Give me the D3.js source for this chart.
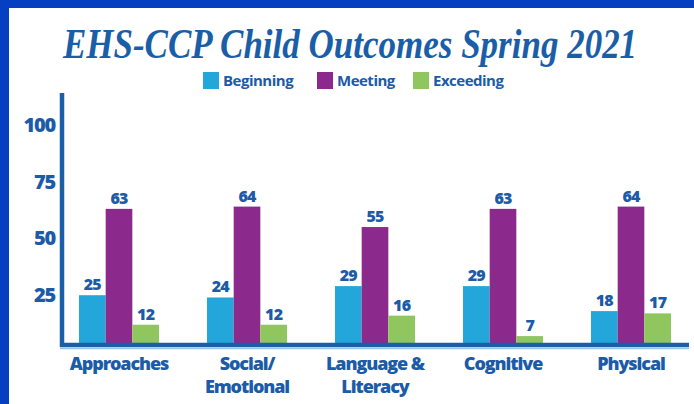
<!DOCTYPE html>
<html>
<head>
<meta charset="utf-8">
<script src="https://cdn.jsdelivr.net/npm/d3@7"></script>
<style>
  body { margin: 0; background: #fff; }
  #chart { width: 694px; height: 404px; }
</style>
</head>
<body>
<div id="chart"></div>
<script>
const w = 694;
const h = 404;

const categories = [["Approaches"], ["Social/", "Emotional"], ["Language &", "Literacy"], ["Cognitive"], ["Physical"]];
const series = ["Beginning", "Meeting", "Exceeding"];
const beginning = [25, 24, 29, 29, 18];
const meeting = [63, 64, 55, 63, 64];
const exceeding = [12, 12, 16, 7, 17];
const yTicks = [25, 50, 75, 100];

const colors = ["#23a6d9", "#8b2a8c", "#8fc65e"];
const textColor = "#1b5ba7";
const labelFont = "'Open Sans', sans-serif";
const baseline = 343;

const svg = d3.select("#chart")
                .append("svg")
                .attr("width", w)
                .attr("height", h);

// frame
svg.append("rect").attr("x", 0).attr("y", 0).attr("width", w).attr("height", 8).attr("fill", "#0640c2");
svg.append("rect").attr("x", 0).attr("y", 0).attr("width", 9).attr("height", h).attr("fill", "#0640c2");

// title (stretched a bit to get the tall brush look)
svg.append("text")
    .attr("transform", "translate(350,58) scale(1,1.22)")
    .attr("text-anchor", "middle")
    .style("font-family", "'Liberation Serif', serif")
    .style("font-style", "italic")
    .style("font-weight", "bold")
    .style("font-size", "35px")
    .style("fill", "#1a5ea8")
    .text("EHS-CCP Child Outcomes Spring 2021");

const x0 = d3.scaleBand()
                .domain(d3.range(categories.length))
                .range([55, 695])
                .paddingInner(0.375)
                .paddingOuter(0.1875);

const x1 = d3.scaleBand()
                .domain(series)
                .range([0, x0.bandwidth()]);

const y = d3.scaleLinear()
                .domain([0, 114])
                .range([352, 93]);

// legend
const legendX = [203, 317, 413];
const legend = svg.selectAll(".legend")
                .data(series)
                .enter()
                .append("g")
                .attr("class", "legend")
                .attr("transform", (d, i) => "translate(" + legendX[i] + ",72)");
legend.append("rect")
    .attr("width", 16)
    .attr("height", 17)
    .attr("fill", (d, i) => colors[i]);
legend.append("text")
    .attr("x", 20)
    .attr("y", 14)
    .style("font-family", labelFont)
    .style("font-weight", 700)
    .style("font-size", "15px")
    .style("letter-spacing", "-0.5px")
    .style("fill", textColor)
    .text(d => d);

// bars
const rows = categories.map((c, i) => [beginning[i], meeting[i], exceeding[i]]);

const groups = svg.selectAll(".group")
                .data(rows)
                .enter()
                .append("g")
                .attr("class", "group")
                .attr("transform", (d, i) => "translate(" + x0(i) + ",0)");

groups.selectAll("rect")
    .data(d => d.map((v, j) => ({ key: series[j], value: v, j: j })))
    .enter()
    .append("rect")
    .attr("x", d => x1(d.key))
    .attr("y", d => y(d.value))
    .attr("width", x1.bandwidth())
    .attr("height", d => baseline - y(d.value))
    .attr("fill", d => colors[d.j]);

groups.selectAll(".value")
    .data(d => d.map((v, j) => ({ key: series[j], value: v })))
    .enter()
    .append("text")
    .attr("class", "value")
    .attr("x", d => x1(d.key) + x1.bandwidth() / 2)
    .attr("y", d => y(d.value) - 5)
    .attr("text-anchor", "middle")
    .style("font-family", labelFont)
    .style("font-weight", 800)
    .style("font-size", "16px")
    .style("letter-spacing", "-0.8px")
    .style("fill", textColor)
    .text(d => d.value);

// axes
svg.append("line")
    .attr("x1", 62).attr("y1", 93)
    .attr("x2", 62).attr("y2", 347)
    .attr("stroke", "#1b5fa8")
    .attr("stroke-width", 4.5);
svg.append("line")
    .attr("x1", 60).attr("y1", 345)
    .attr("x2", 689).attr("y2", 345)
    .attr("stroke", "#1b5fa8")
    .attr("stroke-width", 4.5);
svg.append("line")
    .attr("x1", 60).attr("y1", 348.5)
    .attr("x2", 689).attr("y2", 348.5)
    .attr("stroke", "#9cc3ea")
    .attr("stroke-width", 1.5);

const yAxis = d3.axisLeft(y).tickValues(yTicks).tickSize(0).tickPadding(0);
const gy = svg.append("g")
                .attr("transform", "translate(55,0)")
                .call(yAxis);
gy.select(".domain").remove();
gy.selectAll("text")
    .style("font-family", labelFont)
    .style("font-weight", 800)
    .style("font-size", "20px")
    .style("letter-spacing", "-1.2px")
    .style("fill", textColor);

// category labels
svg.selectAll(".cat")
    .data(categories)
    .enter()
    .append("text")
    .attr("class", "cat")
    .attr("text-anchor", "middle")
    .attr("x", (d, i) => x0(i) + x0.bandwidth() / 2)
    .attr("y", 370)
    .style("font-family", labelFont)
    .style("font-weight", 800)
    .style("font-size", "18px")
    .style("letter-spacing", "-1.1px")
    .style("fill", textColor)
    .selectAll("tspan")
    .data(d => d)
    .enter()
    .append("tspan")
    .attr("x", function() { return d3.select(this.parentNode).attr("x"); })
    .attr("dy", (d, i) => i === 0 ? 0 : 23)
    .text(d => d);
</script>
</body>
</html>
